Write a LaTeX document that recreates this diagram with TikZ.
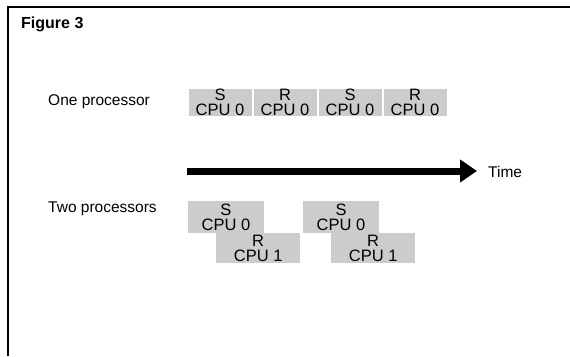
\documentclass[tikz,border=0pt]{standalone}
\usepackage{fontspec}
\setmainfont{Liberation Sans}
\usetikzlibrary{arrows.meta}
\begin{document}
\begin{tikzpicture}[x=1pt,y=-1pt,line cap=butt,line join=miter,
  lbl/.style={font=\fontsize{15.5}{15}\selectfont,inner sep=0pt,anchor=west},
  job/.style={fill=black!20,inner sep=0pt,align=center,
    font=\fontsize{16.5}{15}\selectfont},
  jobone/.style={job,minimum width=63pt,minimum height=27pt},
  jobtwo/.style={job,minimum width=76pt,minimum height=32pt}]
  \useasboundingbox (0,0) rectangle (570,356);
  % frame
  \draw[line width=2pt] (8,356) -- (8,6.5) -- (570,6.5);
  \node[lbl,font=\fontsize{16}{16}\selectfont\bfseries] (title) at (21,24) {Figure 3};
  % one processor
  \node[lbl] (one) at (48,102) {One processor};
  \foreach \t [count=\i] in {S,R,S,R}
    \node[jobone] (one\i) at ({155+65*\i},102.5) {\t\\CPU 0};
  % time axis
  \coordinate (t0) at (187,171);
  \node[lbl] (time) at (488,172) {Time};
  \draw[line width=7pt,-{Triangle[width=22pt,length=17pt]}] (t0) -- ([xshift=-11pt]time.west |- t0);
  % two processors
  \node[lbl] (two) at (48,209) {Two processors};
  \foreach \i/\x in {1/226,2/341} {
    \node[jobtwo] (s\i) at (\x,217) {S\\CPU 0};
    \node[jobtwo,minimum width=84pt,minimum height=30pt,anchor=north west] (r\i) at ([xshift=-10pt]s\i.south) {R\\CPU 1};
  }
\end{tikzpicture}
\end{document}
